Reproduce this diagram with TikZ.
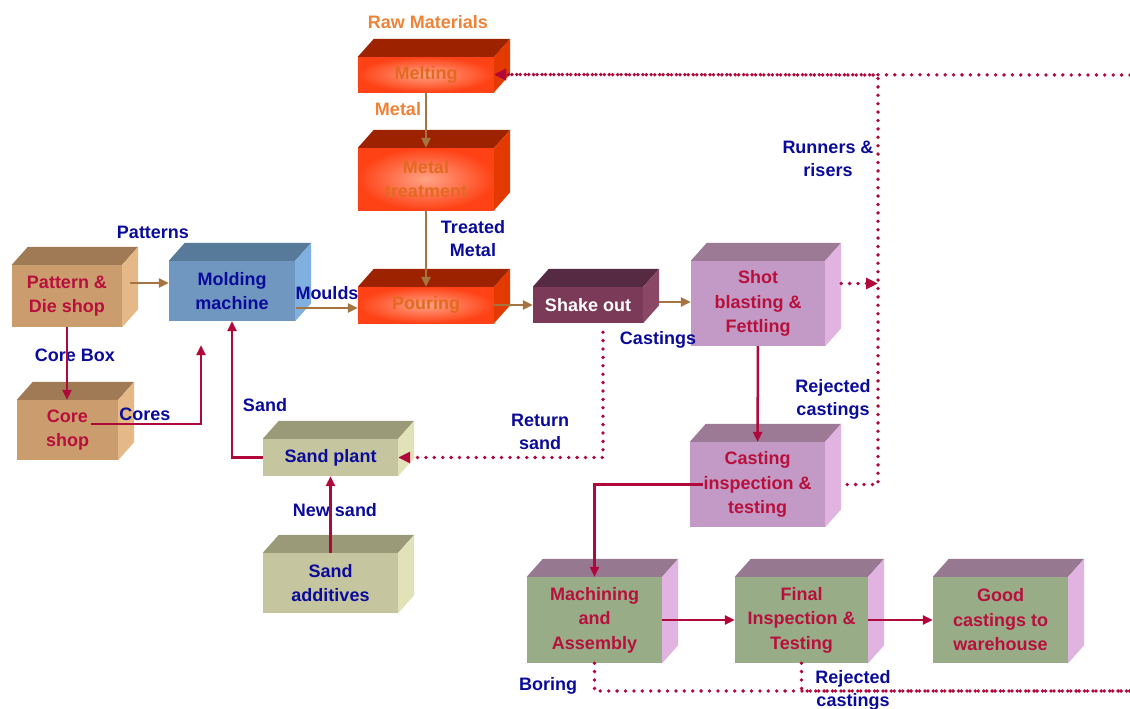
\documentclass[tikz,border=0pt]{standalone}
\usepackage{fontspec}
\setmainfont{Liberation Sans}
\usetikzlibrary{arrows.meta}

\definecolor{crim}{HTML}{B8103C}
\definecolor{crimline}{HTML}{B0083A}
\definecolor{navy}{HTML}{0B0B99}
\definecolor{brn}{HTML}{A57441}
\definecolor{orgtext}{HTML}{EE8236}
\definecolor{orgbox}{HTML}{E26A22}
\definecolor{orgedge}{HTML}{FF4216}
\definecolor{orgglow}{HTML}{FFA486}
\definecolor{redtop}{HTML}{9C2200}
\definecolor{redside}{HTML}{E23A00}
\definecolor{tanfront}{HTML}{CB9C6E}
\definecolor{tantop}{HTML}{A07A55}
\definecolor{tanside}{HTML}{E5B887}
\definecolor{bluefront}{HTML}{6F97C0}
\definecolor{bluetop}{HTML}{587A9A}
\definecolor{blueside}{HTML}{80B0E0}
\definecolor{khfront}{HTML}{C5C5A0}
\definecolor{khtop}{HTML}{9A9A78}
\definecolor{khside}{HTML}{E2E2B8}
\definecolor{plumfront}{HTML}{7B3A57}
\definecolor{plumtop}{HTML}{562A42}
\definecolor{plumside}{HTML}{8B4766}
\definecolor{lilfront}{HTML}{C39AC6}
\definecolor{liltop}{HTML}{9C7A95}
\definecolor{lilside}{HTML}{E1B3E1}
\definecolor{sagefront}{HTML}{98AC88}
\definecolor{sagetop}{HTML}{977891}

\newcommand{\boxfont}{\fontsize{18}{24.5}\selectfont\bfseries}
\newcommand{\lblfont}{\fontsize{18}{23}\selectfont\bfseries}

\begin{document}
\begin{tikzpicture}
[x=1pt,y=-1pt,
  box/.style={inner sep=0pt,align=center,font=\boxfont},
  wh/.style 2 args={minimum width=#1pt,minimum height=#2pt},
  orangebox/.style={box,shade,inner color=orgglow,outer color=orgedge,text=orgbox},
  tanbox/.style={box,fill=tanfront,text=crim},
  bluebox/.style={box,fill=bluefront,text=navy},
  sandbox/.style={box,fill=khfront,text=navy},
  plumbox/.style={box,fill=plumfront,text=white},
  lilacbox/.style={box,fill=lilfront,text=crim},
  sagebox/.style={box,fill=sagefront,text=crim},
  lbl/.style={inner sep=0pt,align=center,font=\lblfont,text=navy},
  orglbl/.style={lbl,text=orgtext},
  brownarr/.style={-{Triangle[length=10pt,width=9pt]},line width=2.5pt,draw=brn},
  redarr/.style={-{Triangle[length=10pt,width=9pt]},line width=2.5pt,draw=crimline},
  dotline/.style={draw=crimline,line width=3.8pt,line cap=round,dash pattern=on 0pt off 8.4pt},
  dotarr/.style={dotline,-{Triangle[length=12pt,width=11pt]}}]
\useasboundingbox (0,0) rectangle (1130,709);

%% process blocks (front faces)
\node[tanbox,wh={110}{62}] (pattern) at (67,296) {Pattern \&\\Die shop};
\node[tanbox,wh={101}{60}] (core) at (67.5,430) {Core\\shop};
\node[bluebox,wh={126}{60}] (molding) at (232,291) {Molding\\machine};
\node[orangebox,wh={136}{35}] (melting) at (426,74.5) {Melting};
\node[orangebox,wh={136}{62}] (treat) at (426,179) {Metal\\treatment};
\node[orangebox,wh={136}{36}] (pouring) at (426,305) {Pouring};
\node[plumbox,wh={110}{36}] (shake) at (588,305) {Shake out};
\node[lilacbox,wh={134}{85}] (shot) at (758,303.5) {Shot\\blasting \&\\Fettling};
\node[lilacbox,wh={135}{85}] (inspect) at (757.5,484.5) {Casting\\inspection \&\\testing};
\node[sandbox,wh={135}{37}] (sandplant) at (330.5,457.5) {Sand plant};
\node[sandbox,wh={135}{60}] (additives) at (330.5,583) {Sand\\additives};
\node[sagebox,wh={135}{86}] (machining) at (594.5,620) {Machining\\and\\Assembly};
\node[sagebox,wh={133}{86}] (final) at (801.5,620) {Final\\Inspection \&\\Testing};
\node[sagebox,wh={135}{86}] (good) at (1000.5,620) {Good\\castings to\\warehouse};

%% top and side faces
\foreach \nm/\tp/\sd in {pattern/tantop/tanside, core/tantop/tanside,
  molding/bluetop/blueside, melting/redtop/redside, treat/redtop/redside,
  pouring/redtop/redside, shake/plumtop/plumside, shot/liltop/lilside,
  inspect/liltop/lilside, sandplant/khtop/khside, additives/khtop/khside,
  machining/sagetop/lilside, final/sagetop/lilside, good/sagetop/lilside} {
  \fill[fill=\tp] (\nm.north west) -- ++(16,-18)
    -- ([shift={(16,-18)}]\nm.north east) -- (\nm.north east) -- cycle;
  \fill[fill=\sd] (\nm.north east) -- ++(16,-18)
    -- ([shift={(16,-18)}]\nm.south east) -- (\nm.south east) -- cycle;
}

%% labels
\node[orglbl] (lraw) at (428,22) {Raw Materials};
\node[orglbl] (lmetal) at (398,109) {Metal};
\node[lbl] (lpatterns) at (153,232) {Patterns};
\node[lbl] (lcorebox) at (75,355) {Core Box};
\node[lbl] (lcores) at (145,414) {Cores};
\node[lbl] (lsand) at (265,405) {Sand};
\node[lbl] (lmoulds) at (327,293) {Moulds};
\node[lbl] (ltreated) at (473,239) {Treated\\Metal};
\node[lbl] (lcastings) at (658,340) {Castings};
\node[lbl] (lrunners) at (828,159) {Runners \&\\risers};
\node[lbl] (lrejected) at (833,399.5) {Rejected\\castings};
\node[lbl] (lreturn) at (540,432) {Return\\sand};
\node[lbl] (lnewsand) at (335,510) {New sand};
\node[lbl] (lboring) at (548,686) {Boring};
\node[lbl] (lrejfinal) at (853,690.5) {Rejected\\castings};

%% main flow
\draw[brownarr] ([shift={(8,-13)}]pattern.east) coordinate (p1) -- (p1 -| molding.west);
\draw[brownarr] ([shift={(1,17)}]molding.east) coordinate (m1) -- (m1 -| pouring.west);
\draw[brownarr] (melting) -- (treat);
\draw[brownarr] (treat) -- (pouring);
\draw[brownarr] (pouring) -- (shake);
\draw[brownarr] ([shift={(16,-3)}]shake.east) coordinate (s1) -- (s1 -| shot.west);

%% cores, sand and finishing
\draw[redarr] (pattern.south) -- (pattern.south |- core.north);
\draw[redarr] ([shift={(23,-6)}]core.center) -| ([shift={(-31,24)}]molding.south);
\draw[redarr] (sandplant.west) -| (molding.south);
\draw[redarr] (additives) -- (sandplant);
\draw[redarr] (shot) -- (inspect);
\draw[redarr] ([xshift=13pt]inspect.west) -| (machining.north);
\draw[redarr] (machining) -- (final);
\draw[redarr] (final) -- (good);

%% returns and scrap
\coordinate (scrap) at (878,75);
\coordinate (edgetop) at (1130,75);
\coordinate (edgebot) at (1130,691);
\draw[dotarr] ([shift={(15,9)}]shake.south) |- (sandplant.east);
\draw[dotarr] ([shift={(16,-20)}]shot.east) coordinate (r1) -- (r1 -| scrap);
\draw[dotarr] ([xshift=22pt]inspect.east) -| (scrap) -- (melting.east);
\draw[dotarr] (edgetop) -- (melting.east);
\draw[dotline] (machining.south) -- (machining.south |- edgebot) -- (edgebot);
\draw[dotline] (final.south) -- (final.south |- edgebot) -- (edgebot);
\end{tikzpicture}
\end{document}
